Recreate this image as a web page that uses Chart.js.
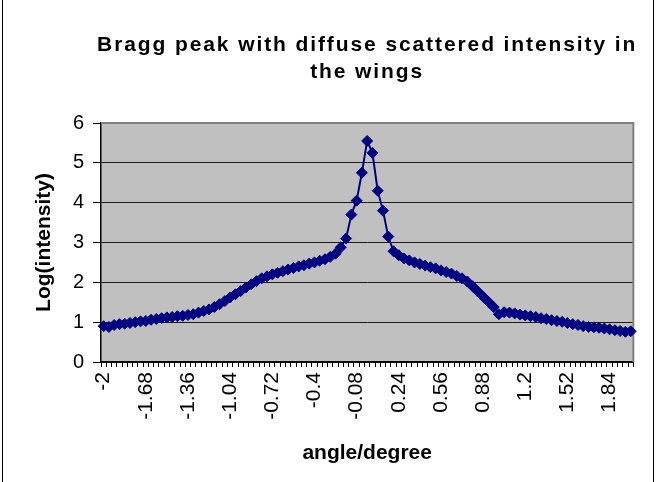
<!DOCTYPE html>
<html>
<head>
<meta charset="utf-8">
<script src="https://cdn.jsdelivr.net/npm/chart.js"></script>
<style>
    html, body { margin: 0; padding: 0; background: #fff; }
    #wrap { width: 661px; height: 482px; }
</style>
</head>
<body>
<div id="wrap"><canvas id="braggChart" width="661" height="482"></canvas></div>
<script>
// angle (degree) categories, as in the spreadsheet column
const angles = [
    '-2', '-1.96', '-1.92', '-1.88', '-1.84', '-1.8', '-1.76', '-1.72', '-1.68', '-1.64',
    '-1.6', '-1.56', '-1.52', '-1.48', '-1.44', '-1.4', '-1.36', '-1.32', '-1.28', '-1.24',
    '-1.2', '-1.16', '-1.12', '-1.08', '-1.04', '-1', '-0.96', '-0.92', '-0.88', '-0.84',
    '-0.8', '-0.76', '-0.72', '-0.68', '-0.64', '-0.6', '-0.56', '-0.52', '-0.48', '-0.44',
    '-0.4', '-0.36', '-0.32', '-0.28', '-0.24', '-0.2', '-0.16', '-0.12', '-0.08', '-0.04',
    '0', '0.04', '0.08', '0.12', '0.16', '0.2', '0.24', '0.28', '0.32', '0.36',
    '0.4', '0.44', '0.48', '0.52', '0.56', '0.6', '0.64', '0.68', '0.72', '0.76',
    '0.8', '0.84', '0.88', '0.92', '0.96', '1', '1.04', '1.08', '1.12', '1.16',
    '1.2', '1.24', '1.28', '1.32', '1.36', '1.4', '1.44', '1.48', '1.52', '1.56',
    '1.6', '1.64', '1.68', '1.72', '1.76', '1.8', '1.84', '1.88', '1.92', '1.96',
    '2'
];

// Log(intensity)
const logIntensity = [
    0.9, 0.88, 0.93, 0.95, 0.96, 0.98, 1.0, 1.02, 1.03, 1.06,
    1.08, 1.1, 1.12, 1.13, 1.15, 1.16, 1.18, 1.2, 1.24, 1.28,
    1.32, 1.38, 1.45, 1.53, 1.62, 1.7, 1.78, 1.87, 1.95, 2.03,
    2.1, 2.15, 2.2, 2.24, 2.28, 2.32, 2.36, 2.4, 2.43, 2.47,
    2.5, 2.54, 2.58, 2.64, 2.72, 2.88, 3.1, 3.7, 4.05, 4.75,
    5.55, 5.25, 4.3, 3.8, 3.15, 2.78, 2.68, 2.6, 2.55, 2.5,
    2.46, 2.42, 2.38, 2.35, 2.3, 2.26, 2.22, 2.16, 2.1, 2.02,
    1.9, 1.77, 1.64, 1.51, 1.38, 1.2, 1.25, 1.24, 1.22, 1.19,
    1.17, 1.15, 1.13, 1.1, 1.08, 1.05, 1.03, 1.01, 0.98, 0.95,
    0.93, 0.9, 0.88, 0.87, 0.86, 0.84, 0.82, 0.8, 0.78, 0.76,
    0.77
];

const yMin = 0, yMax = 6, yStep = 1;
const labelEvery = 8; // every 8th angle gets a label
const titleLines = ['Bragg peak with diffuse scattered intensity in', 'the wings'];

// grey plot area, grey top/right edge, outer frame, title
const excelLook = {
    id: 'excelLook',
    beforeDraw(chart) {
        const { ctx, chartArea: a } = chart;
        ctx.save();
        ctx.fillStyle = '#c0c0c0';
        ctx.fillRect(a.left, a.top, a.right - a.left, a.bottom - a.top);
        ctx.restore();
    },
    beforeDatasetsDraw(chart) {
        const { ctx, chartArea: a } = chart;
        ctx.save();
        ctx.strokeStyle = '#808080';
        ctx.lineWidth = 2;
        ctx.beginPath();
        ctx.moveTo(a.left, a.top);
        ctx.lineTo(a.right, a.top);
        ctx.lineTo(a.right, a.bottom);
        ctx.stroke();
        ctx.restore();
    },
    afterDraw(chart) {
        const { ctx, chartArea: a } = chart;
        ctx.save();
        ctx.strokeStyle = '#000';
        ctx.lineWidth = 1;
        ctx.strokeRect(2.5, -5, 651, 492);

        ctx.fillStyle = '#000';
        ctx.font = 'bold 21px "Liberation Sans", Arial, sans-serif';
        ctx.textAlign = 'center';
        ctx.textBaseline = 'middle';
        if ('letterSpacing' in ctx) ctx.letterSpacing = '1.9px';
        const cx = (a.left + a.right) / 2;
        titleLines.forEach((t, i) => ctx.fillText(t, cx, 45 + i * 27));
        ctx.restore();
    }
};

const ctx = document.getElementById('braggChart').getContext('2d');
new Chart(ctx, {
    type: 'line',
    data: {
        labels: angles,
        datasets: [{
            data: logIntensity,
            borderColor: '#000080',
            borderWidth: 2,
            pointStyle: 'rectRot',
            pointRadius: 5.5,
            pointBackgroundColor: '#000080',
            pointBorderColor: '#000080',
            pointBorderWidth: 1,
            tension: 0
        }]
    },
    options: {
        responsive: false,
        animation: false,
        layout: { padding: { left: 0, top: 123, right: 24, bottom: 0 } },
        plugins: { legend: { display: false }, tooltip: { enabled: false }, title: { display: false } },
        scales: {
            x: {
                offset: true,
                afterFit: s => { s.height = 120; },
                grid: { drawOnChartArea: false, offset: true, tickLength: 5, color: '#000', tickColor: '#000' },
                border: { color: '#000', width: 1.5 },
                ticks: {
                    autoSkip: false,
                    minRotation: 90,
                    maxRotation: 90,
                    padding: 5,
                    color: '#000',
                    font: { family: '"Liberation Sans", Arial, sans-serif', size: 21 },
                    callback: (v, i) => i % labelEvery === 0 ? angles[i] : ''
                },
                title: {
                    display: true,
                    text: 'angle/degree',
                    color: '#000',
                    padding: { top: 0, bottom: 16 },
                    font: { family: '"Liberation Sans", Arial, sans-serif', size: 21, weight: 'bold' }
                }
            },
            y: {
                min: yMin,
                max: yMax,
                afterFit: s => { s.width = 101; },
                grid: { color: '#1a1a1a', tickColor: '#000', tickLength: 8, lineWidth: 1 },
                border: { color: '#000', width: 1.5 },
                ticks: {
                    stepSize: yStep,
                    padding: 9,
                    color: '#000',
                    font: { family: '"Liberation Sans", Arial, sans-serif', size: 20 }
                },
                title: {
                    display: true,
                    text: 'Log(intensity)',
                    color: '#000',
                    padding: { top: 32, bottom: 0 },
                    font: { family: '"Liberation Sans", Arial, sans-serif', size: 21, weight: 'bold' }
                }
            }
        }
    },
    plugins: [excelLook]
});
</script>
</body>
</html>
